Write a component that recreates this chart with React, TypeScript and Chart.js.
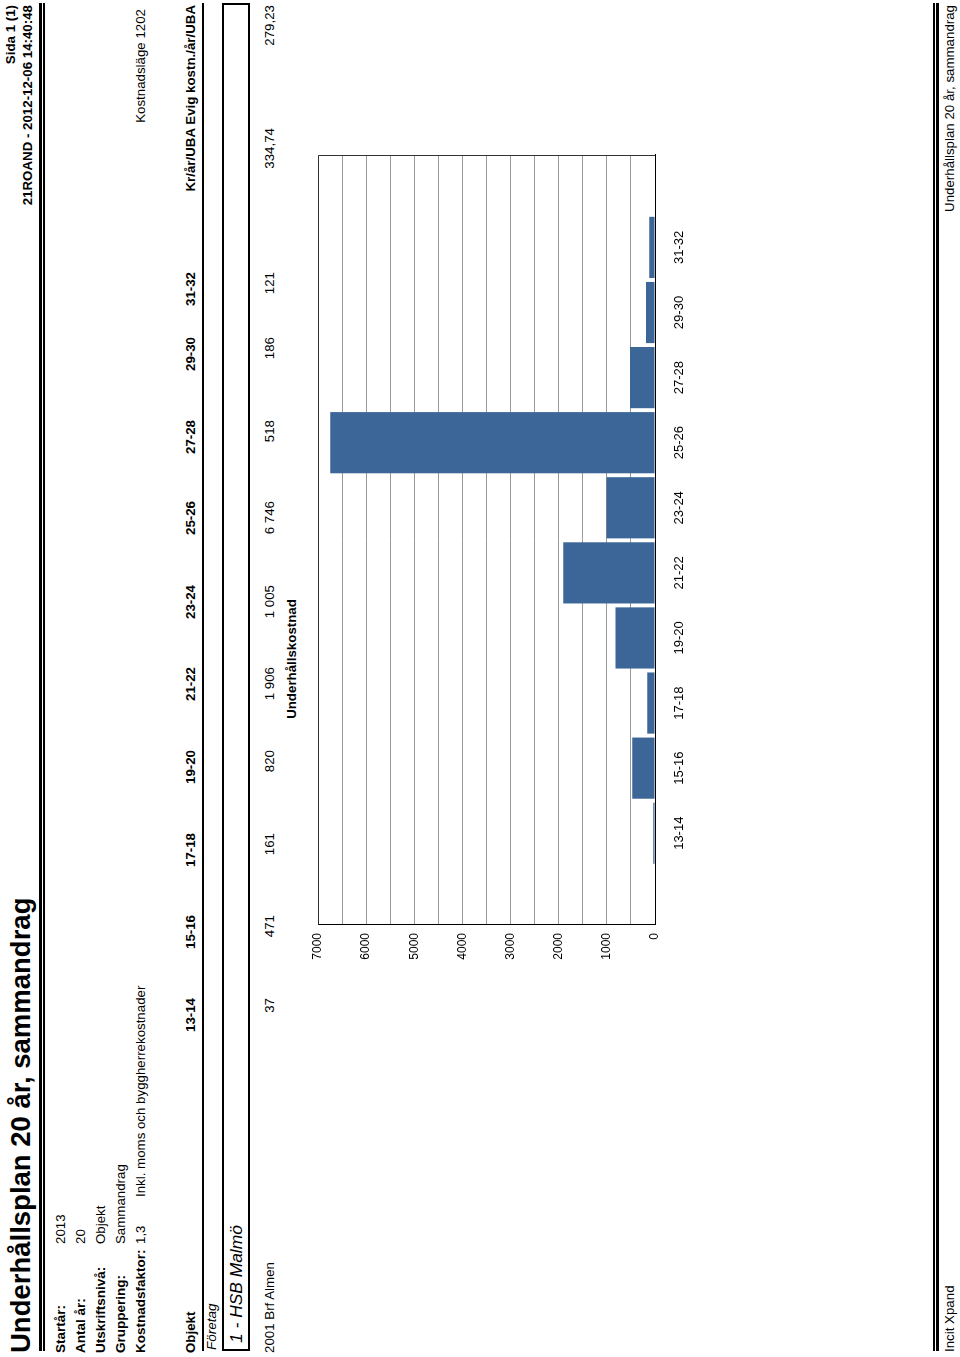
import React, { useEffect, useRef } from "react";
import { Chart, registerables } from "chart.js";

Chart.register(...registerables);

// ---------- data ----------
const categories = ["13-14", "15-16", "17-18", "19-20", "21-22", "23-24", "25-26", "27-28", "29-30", "31-32"];
const costs = [37, 471, 161, 820, 1906, 1005, 6746, 518, 186, 121];
const yTickLabels = [0, 1000, 2000, 3000, 4000, 5000, 6000, 7000];
const extraHeaders = ["Kr/år/UBA", "Evig kostn./år/UBA"];
const extraValues = ["334,74", "279,23"];
const infoLabels = ["Startår:", "Antal år:", "Utskriftsnivå:", "Gruppering:", "Kostnadsfaktor:"];
const infoValues = ["2013", "20", "Objekt", "Sammandrag", "1,3"];

const FONT = "'Liberation Sans', Arial, Helvetica, sans-serif";
const BAR_COLOR = "#3b6697";
const BASE = 13.3;

// column right edges in the (unrotated) landscape page
const colRight = [359, 442, 524, 607, 690, 772, 856, 937, 1020, 1085, 1229, 1352];

const fmt = (v: number) => String(v).replace(/\B(?=(\d{3})+(?!\d))/g, " ");

function Txt(props: {
  x: number;
  base: number;
  size?: number;
  bold?: boolean;
  italic?: boolean;
  align?: "left" | "right" | "center";
  children: React.ReactNode;
}) {
  const size = props.size ?? BASE;
  const top = props.base - 0.8465 * size;
  const align = props.align ?? "left";
  const tx = align === "right" ? "translateX(-100%)" : align === "center" ? "translateX(-50%)" : undefined;
  return (
    <div
      style={{
        position: "absolute",
        left: props.x,
        top,
        fontSize: size,
        lineHeight: `${size}px`,
        fontWeight: props.bold ? 700 : 400,
        fontStyle: props.italic ? "italic" : "normal",
        whiteSpace: "nowrap",
        transform: tx,
      }}
    >
      {props.children}
    </div>
  );
}

function HLine(props: { y: number; h: number; x1?: number; x2?: number }) {
  const x1 = props.x1 ?? 6;
  const x2 = props.x2 ?? 1354;
  return (
    <div style={{ position: "absolute", left: x1, top: props.y, width: x2 - x1, height: props.h, background: "#000" }} />
  );
}

const framePlugin = {
  id: "frame",
  afterDatasetsDraw(chart: any) {
    const { ctx, chartArea } = chart;
    ctx.save();
    ctx.strokeStyle = "#333";
    ctx.lineWidth = 1;
    ctx.beginPath();
    ctx.moveTo(Math.round(chartArea.left) + 0.5, Math.round(chartArea.top) + 0.5);
    ctx.lineTo(Math.round(chartArea.right) - 0.5, Math.round(chartArea.top) + 0.5);
    ctx.lineTo(Math.round(chartArea.right) - 0.5, Math.round(chartArea.bottom));
    ctx.stroke();
    ctx.restore();
  },
};

export default function App() {
  const ref = useRef<HTMLCanvasElement | null>(null);

  useEffect(() => {
    document.body.style.overflow = "hidden";
    if (!ref.current) return;
    const chart = new Chart(ref.current, {
      type: "bar",
      data: {
        datasets: [
          {
            data: costs.map((v, i) => ({ x: i, y: v })),
            backgroundColor: BAR_COLOR,
            borderWidth: 0,
            categoryPercentage: 0.94,
            barPercentage: 1,
          } as any,
        ],
      },
      options: {
        animation: false,
        responsive: false,
        events: [],
        layout: { padding: { top: 18, right: 18, left: 0, bottom: 0 } },
        plugins: { legend: { display: false }, tooltip: { enabled: false }, title: { display: false } },
        scales: {
          x: {
            type: "linear",
            min: -1.41,
            max: 10.42,
            offset: false,
            grid: { display: false, drawTicks: false },
            border: { display: true, color: "#000", width: 1 },
            afterBuildTicks: (s: any) => {
              s.ticks = categories.map((_, i) => ({ value: i }));
            },
            afterFit: (s: any) => {
              s.height = 65;
            },
            ticks: {
              autoSkip: false,
              maxRotation: 0,
              minRotation: 0,
              padding: 17,
              color: "#000",
              font: { family: FONT, size: 13 },
              callback: (v: any) => categories[v as number] ?? "",
            },
          },
          y: {
            min: 0,
            max: 7000,
            grid: { color: "#999", lineWidth: 1, drawTicks: false },
            border: { display: true, color: "#000", width: 1 },
            afterFit: (s: any) => {
              s.width = 52;
            },
            ticks: {
              stepSize: 500,
              padding: 8,
              color: "#000",
              font: { family: FONT, size: 12 },
              callback: (v: any) => (yTickLabels.includes(v as number) ? String(v) : ""),
            },
          },
        },
      },
      plugins: [framePlugin],
    } as any);
    return () => chart.destroy();
  }, []);

  return (
    <div
      style={{
        position: "absolute",
        left: 0,
        top: 0,
        width: 1357,
        height: 960,
        transformOrigin: "0 0",
        transform: "translate(0px, 1357px) rotate(-90deg)",
        fontFamily: FONT,
        color: "#000",
        background: "#fff",
        overflow: "hidden",
      }}
    >
      {/* header */}
      <Txt x={4} base={30} size={27.5} bold>
        Underhållsplan 20 år, sammandrag
      </Txt>
      <Txt x={1352} base={15} bold align="right">
        Sida 1 (1)
      </Txt>
      <Txt x={1352} base={32} bold align="right">
        21ROAND - 2012-12-06 14:40:48
      </Txt>
      <HLine y={39} h={3} />
      <HLine y={43} h={1.5} />

      {/* info block */}
      {infoLabels.map((l, i) => (
        <React.Fragment key={l}>
          <Txt x={4} base={65 + i * 20} size={13.5} bold>
            {l}
          </Txt>
          <Txt x={113} base={65 + i * 20}>
            {infoValues[i]}
          </Txt>
        </React.Fragment>
      ))}
      <Txt x={160} base={145}>
        Inkl. moms och byggherrekostnader
      </Txt>
      <Txt x={1348} base={145} align="right">
        Kostnadsläge 1202
      </Txt>

      {/* table header */}
      <Txt x={4} base={195} bold>
        Objekt
      </Txt>
      {categories.map((c, i) => (
        <Txt key={c} x={colRight[i]} base={195} bold align="right">
          {c}
        </Txt>
      ))}
      {extraHeaders.map((h, i) => (
        <Txt key={h} x={colRight[10 + i]} base={195} bold align="right">
          {h}
        </Txt>
      ))}
      <HLine y={202} h={2} />
      <Txt x={7} base={216} size={13.5} italic>
        Företag
      </Txt>
      <div
        style={{
          position: "absolute",
          left: 6,
          top: 222,
          width: 1348,
          height: 28,
          border: "2px solid #000",
          boxSizing: "border-box",
        }}
      />
      <Txt x={14} base={243} size={17.4} italic>
        1 - HSB Malmö
      </Txt>

      {/* values row */}
      <Txt x={4} base={274}>
        2001 Brf Almen
      </Txt>
      {costs.map((v, i) => (
        <Txt key={i} x={colRight[i]} base={274} align="right">
          {fmt(v)}
        </Txt>
      ))}
      {extraValues.map((v, i) => (
        <Txt key={v} x={colRight[10 + i]} base={274} align="right">
          {v}
        </Txt>
      ))}

      <Txt x={698} base={296} bold align="center">
        Underhållskostnad
      </Txt>

      <canvas ref={ref} width={840} height={420} style={{ position: "absolute", left: 380, top: 300 }} />

      {/* footer */}
      <HLine y={933} h={1.5} />
      <HLine y={936} h={3} />
      <Txt x={5} base={954}>
        Incit Xpand
      </Txt>
      <Txt x={1352} base={954} align="right">
        Underhållsplan 20 år, sammandrag
      </Txt>
    </div>
  );
}
